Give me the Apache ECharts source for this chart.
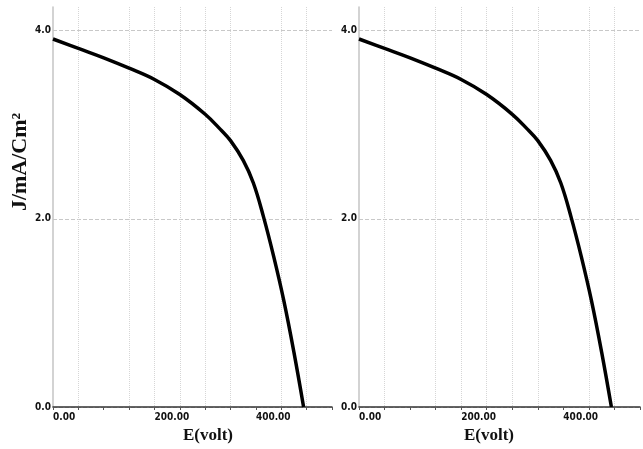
<!DOCTYPE html>
<html>
<head>
<meta charset="utf-8">
<script src="https://cdn.jsdelivr.net/npm/echarts@6/dist/echarts.min.js"></script>
<style>
  html, body { margin: 0; padding: 0; background: #fff; }
  #chart { width: 643px; height: 449px; }
</style>
</head>
<body>
<div id="chart"></div>
<script>
// E (volt) vs J (mA/cm2)
const voltage = [0, 50, 100, 150, 200, 250, 300, 330, 350, 375, 395, 415, 435, 455, 475, 494];
const current = [3.91, 3.81, 3.71, 3.60, 3.48, 3.32, 3.11, 2.95, 2.83, 2.62, 2.38, 2.02, 1.60, 1.13, 0.58, 0.0];

const xTitle = 'E(volt)';
const yTitle = 'J/mA/Cm\u00b2';

const pairs = voltage.map((v, i) => [v, current[i]]);

const labelFont = '"Liberation Sans Narrow", "DejaVu Sans Condensed", sans-serif';
const titleFont = 'bold 17px "Liberation Serif", "DejaVu Serif", serif';

// vertical dotted grid: some lines don't show in the picture
const vGridColors = ['transparent', '#d6d6d6', 'transparent', '#d6d6d6', '#d6d6d6', '#d6d6d6',
  '#d6d6d6', '#d6d6d6', 'transparent', '#d6d6d6', '#d6d6d6', 'transparent'];

function makeX(idx) {
  return {
    type: 'value', gridIndex: idx, min: 0, max: 550, interval: 50,
    axisLine: { lineStyle: { color: '#333', width: 1.5 } },
    axisTick: { show: true, length: 3, lineStyle: { color: '#555' } },
    axisLabel: {
      margin: 5, align: 'left', color: '#111', fontWeight: 'bold', fontSize: 10,
      fontFamily: labelFont,
      formatter: v => (v % 200 === 0 && v <= 400) ? v.toFixed(2) : ''
    },
    splitLine: { show: true, lineStyle: { color: vGridColors, type: 'dotted', width: 1 } }
  };
}

function makeY(idx) {
  return {
    type: 'value', gridIndex: idx, min: 0, max: 4.25, interval: 2,
    axisLine: { show: true, lineStyle: { color: '#c4c4c4', width: 1.5 } },
    axisTick: { show: false },
    axisLabel: {
      margin: 2, color: '#111', fontWeight: 'bold', fontSize: 10, fontFamily: labelFont,
      formatter: v => (v % 2 === 0) ? v.toFixed(1) : ''
    },
    splitLine: { show: true, lineStyle: { color: ['#c8c8c8', '#c8c8c8', '#c8c8c8', 'transparent'], type: 'dashed', width: 1 } }
  };
}

function makeSeries(idx) {
  return {
    type: 'line', xAxisIndex: idx, yAxisIndex: idx,
    data: pairs, smooth: 0.4, showSymbol: false,
    lineStyle: { color: '#000', width: 3.5 }
  };
}

const chart = echarts.init(document.getElementById('chart'));
chart.setOption({
  backgroundColor: '#fff',
  animation: false,
  grid: [
    { left: 53, top: 7, width: 279, height: 400 },
    { left: 359, top: 7, width: 293, height: 400 }
  ],
  xAxis: [makeX(0), makeX(1)],
  yAxis: [makeY(0), makeY(1)],
  series: [makeSeries(0), makeSeries(1)],
  graphic: [
    { type: 'text', x: 208, y: 436, style: { text: xTitle, font: titleFont, fill: '#111', align: 'center', verticalAlign: 'middle' } },
    { type: 'text', x: 489, y: 436, style: { text: xTitle, font: titleFont, fill: '#111', align: 'center', verticalAlign: 'middle' } },
    { type: 'text', x: 20, y: 162, rotation: Math.PI / 2,
      style: { text: yTitle, font: 'bold 22px "Liberation Serif", "DejaVu Serif", serif', fill: '#111', align: 'center', verticalAlign: 'middle' } }
  ]
});
</script>
</body>
</html>
